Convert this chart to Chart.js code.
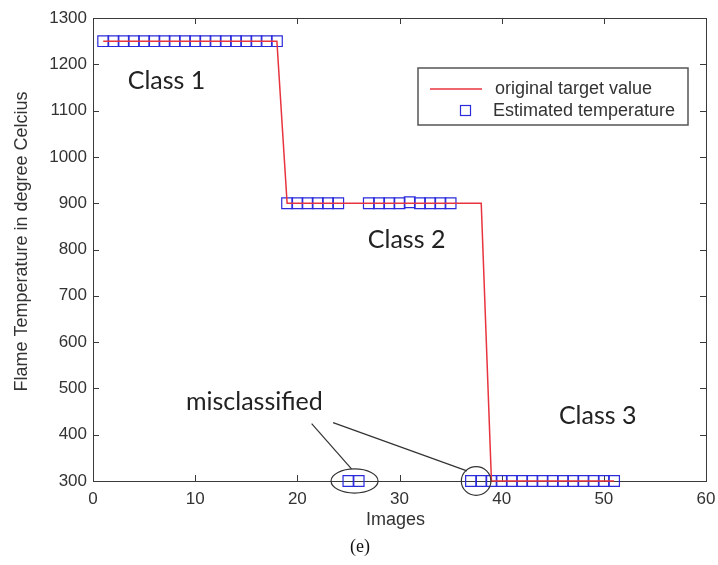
<!DOCTYPE html>
<html>
<head>
<meta charset="utf-8">
<script src="https://cdn.jsdelivr.net/npm/chart.js@4.4.0/dist/chart.umd.min.js"></script>
<style>
  html, body { margin: 0; padding: 0; background: #fff; }
</style>
</head>
<body>
<canvas id="grafico" width="718" height="565"></canvas>
<script>
// numero de imagen (eje X)
const imagenes = [1, 2, 3, 4, 5, 6, 7, 8, 9, 10, 11, 12, 13, 14, 15, 16, 17,
  18, 19, 20, 21, 22, 23, 24, 25, 26, 27, 28, 29, 30, 31, 32, 33, 34, 35, 36,
  37, 38, 39, 40, 41, 42, 43, 44, 45, 46, 47, 48, 49, 50, 51];

// temperatura real de cada clase
const valorObjetivo = [1250, 1250, 1250, 1250, 1250, 1250, 1250, 1250, 1250,
  1250, 1250, 1250, 1250, 1250, 1250, 1250, 1250, 1250,
  900, 900, 900, 900, 900, 900, 900, 900, 900, 900, 900, 900, 900, 900, 900,
  900, 900, 900, 900, 900,
  300, 300, 300, 300, 300, 300, 300, 300, 300, 300, 300, 300, 300];

// temperatura estimada (null = sin marcador)
const temperaturaEstimada = [1250, 1250, 1250, 1250, 1250, 1250, 1250, 1250,
  1250, 1250, 1250, 1250, 1250, 1250, 1250, 1250, 1250, 1250,
  900, 900, 900, 900, 900, 900, 300, 300, 900, 900, 900, 900, 902, 900, 900,
  900, 900, null, 300, 300,
  300, 300, 300, 300, 300, 300, 300, 300, 300, 300, 300, 300, 300];

const ticksX = [0, 10, 20, 30, 40, 50, 60];
const ticksY = [300, 400, 500, 600, 700, 800, 900, 1000, 1100, 1200, 1300];

const etiquetaSerieLinea = "original target value";
const etiquetaSerieMarca = "Estimated temperature";
const tituloX = "Images";
const tituloY = "Flame Temperature in degree Celcius";
const pie = "(e)";

// textos de las clases, en coordenadas de datos
const textosClase = [
  { texto: "Class 1", x: 3.4, y: 1165 },
  { texto: "Class 2", x: 26.9, y: 820 },
  { texto: "Class 3", x: 45.6, y: 440 },
  { texto: "misclassified", x: 9.1, y: 470 }
];

// elipses que marcan los errores y las flechas que llegan a ellas
const elipses = [
  { x: 25.6, y: 300, rx: 2.3, ry: 26 },
  { x: 37.5, y: 300, rx: 1.45, ry: 31 }
];
const flechas = [
  { x1: 21.4, y1: 424, x2: 25.3, y2: 326 },
  { x1: 23.5, y1: 426, x2: 36.6, y2: 322 }
];

const colorLinea = "#e8343e";
const colorMarca = "#2b2bdc";
const colorEje = "#3a3a3a";
const colorTexto = "#333";
const fuente = "'Liberation Sans', Arial, sans-serif";

const puntosObjetivo = imagenes.map((x, i) => ({ x: x, y: valorObjetivo[i] }));
const puntosEstimados = imagenes.map((x, i) => ({ x: x, y: temperaturaEstimada[i] }));

// marco tipo matlab, anotaciones, leyenda y titulos
const decoracion = {
  id: "decoracion",
  beforeDatasetsDraw(chart) {
    const { ctx, chartArea: a, scales } = chart;
    ctx.save();
    ctx.strokeStyle = colorEje;
    ctx.lineWidth = 1;
    ctx.strokeRect(a.left + 0.5, a.top + 0.5, a.right - a.left, a.bottom - a.top);
    ctx.beginPath();
    ticksX.forEach(v => {
      const px = Math.round(scales.x.getPixelForValue(v)) + 0.5;
      ctx.moveTo(px, a.bottom); ctx.lineTo(px, a.bottom - 6);
      ctx.moveTo(px, a.top); ctx.lineTo(px, a.top + 6);
    });
    ticksY.forEach(v => {
      const py = Math.round(scales.y.getPixelForValue(v)) + 0.5;
      ctx.moveTo(a.left, py); ctx.lineTo(a.left + 6, py);
      ctx.moveTo(a.right, py); ctx.lineTo(a.right - 6, py);
    });
    ctx.stroke();
    ctx.restore();
  },
  afterDraw(chart) {
    const { ctx, chartArea: a, scales } = chart;
    const sx = v => scales.x.getPixelForValue(v);
    const sy = v => scales.y.getPixelForValue(v);
    ctx.save();

    // textos de clase
    ctx.fillStyle = "#222";
    ctx.font = "25px Lato, 'Open Sans', sans-serif";
    ctx.textBaseline = "middle";
    ctx.textAlign = "left";
    textosClase.forEach(t => ctx.fillText(t.texto, sx(t.x), sy(t.y)));

    // elipses y flechas
    ctx.strokeStyle = "#333";
    ctx.lineWidth = 1.2;
    elipses.forEach(e => {
      const rx = Math.abs(sx(e.x + e.rx) - sx(e.x));
      const ry = Math.abs(sy(e.y + e.ry) - sy(e.y));
      ctx.beginPath();
      ctx.ellipse(sx(e.x), sy(e.y), rx, ry, 0, 0, Math.PI * 2);
      ctx.stroke();
    });
    flechas.forEach(f => {
      ctx.beginPath();
      ctx.moveTo(sx(f.x1), sy(f.y1));
      ctx.lineTo(sx(f.x2), sy(f.y2));
      ctx.stroke();
    });

    // leyenda
    const lx = a.right - 288, ly = a.top + 50, lw = 270, lh = 57;
    ctx.fillStyle = "#fff";
    ctx.fillRect(lx, ly, lw, lh);
    ctx.strokeStyle = "#555";
    ctx.lineWidth = 1.5;
    ctx.strokeRect(lx, ly, lw, lh);
    const ds = chart.data.datasets;
    ctx.strokeStyle = ds[0].borderColor;
    ctx.lineWidth = 1.5;
    ctx.beginPath();
    ctx.moveTo(lx + 12, ly + 21); ctx.lineTo(lx + 64, ly + 21);
    ctx.stroke();
    ctx.strokeStyle = ds[1].borderColor;
    ctx.lineWidth = 1.2;
    ctx.strokeRect(lx + 42.5, ly + 37.5, 10, 10);
    ctx.fillStyle = colorTexto;
    ctx.font = "18px " + fuente;
    ctx.fillText(ds[0].label, lx + 77, ly + 21);
    ctx.fillText(ds[1].label, lx + 75, ly + 43);

    // titulos de ejes y pie
    ctx.textAlign = "center";
    ctx.fillText(tituloX, (a.left + a.right) / 2 - 4, 520);
    ctx.save();
    ctx.translate(22, (a.top + a.bottom) / 2 - 8);
    ctx.rotate(-Math.PI / 2);
    ctx.fillText(tituloY, 0, 0);
    ctx.restore();
    ctx.fillStyle = "#111";
    ctx.font = "18px 'Liberation Serif', 'Times New Roman', serif";
    ctx.fillText(pie, 360, 547);
    ctx.restore();
  }
};

new Chart(document.getElementById("grafico"), {
  type: "line",
  data: {
    datasets: [
      {
        label: etiquetaSerieLinea,
        data: puntosObjetivo,
        borderColor: colorLinea,
        borderWidth: 1.5,
        pointRadius: 0,
        tension: 0,
        fill: false,
        clip: false
      },
      {
        label: etiquetaSerieMarca,
        data: puntosEstimados,
        showLine: false,
        pointStyle: "rect",
        pointRadius: 7.6,
        pointBorderWidth: 1.2,
        borderColor: colorMarca,
        pointBorderColor: colorMarca,
        pointBackgroundColor: "rgba(0,0,0,0)",
        clip: false
      }
    ]
  },
  options: {
    responsive: false,
    devicePixelRatio: 1,
    animation: false,
    events: [],
    layout: { padding: { top: 18, right: 12, left: 0, bottom: 0 } },
    plugins: { legend: { display: false }, tooltip: { enabled: false } },
    scales: {
      x: {
        type: "linear",
        min: 0, max: 60,
        afterBuildTicks: s => { s.ticks = ticksX.map(v => ({ value: v })); },
        afterFit: s => { s.height = 84; s.paddingLeft = 0; s.paddingRight = 0; },
        grid: { display: false, drawTicks: false },
        border: { display: false },
        ticks: { padding: 8, color: colorTexto, font: { family: fuente, size: 17 },
          callback: v => String(v) }
      },
      y: {
        type: "linear",
        min: 300, max: 1300,
        afterBuildTicks: s => { s.ticks = ticksY.map(v => ({ value: v })); },
        afterFit: s => { s.width = 93; s.paddingTop = 0; s.paddingBottom = 0; },
        grid: { display: false, drawTicks: false },
        border: { display: false },
        ticks: { padding: 6, color: colorTexto, font: { family: fuente, size: 17 },
          callback: v => String(v) }
      }
    }
  },
  plugins: [decoracion]
});
</script>
</body>
</html>
